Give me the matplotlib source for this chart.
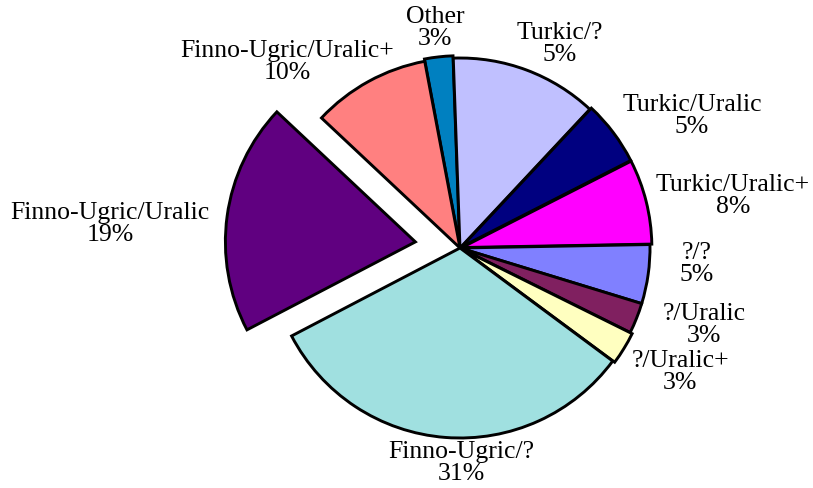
import matplotlib
matplotlib.use("Agg")
import matplotlib.pyplot as plt

# Data (clockwise from the top, starting with "Other")
categories = ["Other", "Turkic/?", "Turkic/Uralic", "Turkic/Uralic+", "?/?",
              "?/Uralic", "?/Uralic+", "Finno-Ugric/?", "Finno-Ugric/Uralic",
              "Finno-Ugric/Uralic+"]
values = [2.4, 12.5, 5.5, 7.2, 5.0, 2.6, 2.8, 32.1, 19.6, 10.0]
pct_labels = ["3%", "5%", "5%", "8%", "5%", "3%", "3%", "31%", "19%", "10%"]

colors = ["#0080C0", "#C0C0FF", "#000080", "#FF00FF", "#8080FF",
          "#802060", "#FFFFC0", "#A0E0E0", "#600080", "#FF8080"]
explode = [0.012, 0.0, 0.01, 0.01, 0.0, 0.0, 0.012, 0.0, 0.237, 0.0]

# label block centres in pixel coordinates (layout only)
label_px = [(435, 28), (560, 44), (692, 116), (733, 196), (697, 264),
            (704, 325), (680, 372), (461, 463), (110, 224), (287, 62)]

W, H = 813, 488
cx, cy, R = 460, 248, 190

fig = plt.figure(figsize=(W / 100, H / 100), dpi=100)
ax = fig.add_axes([0, 0, 1, 1])

ax.pie(values, colors=colors, explode=explode, startangle=100.7,
       counterclock=False, radius=1.0, normalize=True,
       wedgeprops=dict(edgecolor="black", linewidth=2.1, joinstyle="miter"))

ax.set_xlim((0 - cx) / R, (W - cx) / R)
ax.set_ylim((cy - H) / R, cy / R)
ax.set_aspect("equal")
ax.axis("off")

for cat, pct, (px, py) in zip(categories, pct_labels, label_px):
    fig.text(px / W, 1 - py / H, f"{cat}\n{pct}", ha="center", va="center",
             multialignment="center", fontsize=18.5, linespacing=0.95,
             family="Liberation Serif", color="black")

fig.savefig("out.png", dpi=100, facecolor="white")
